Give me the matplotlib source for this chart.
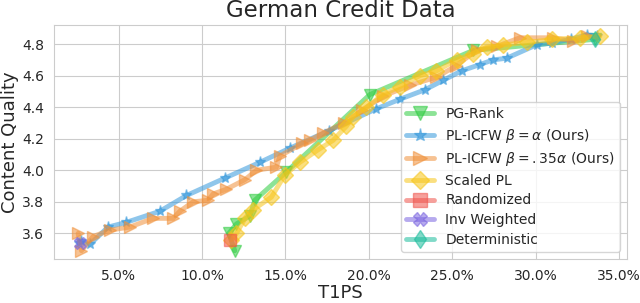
import matplotlib
matplotlib.use("Agg")
import matplotlib.pyplot as plt
import seaborn as sns
from matplotlib.ticker import PercentFormatter

# T1PS (fraction) and content quality per method
pg_rank_x = [0.1196, 0.1160, 0.1206, 0.1286, 0.1316, 0.1506, 0.2006, 0.2626, 0.3356]
pg_rank_y = [3.49, 3.60, 3.66, 3.71, 3.81, 3.99, 4.48, 4.76, 4.83]

icfw_a_x = [0.0260, 0.0276, 0.0326, 0.0436, 0.0546, 0.0746, 0.0906, 0.1136, 0.1346,
            0.1526, 0.1760, 0.2046, 0.2186, 0.2336, 0.2446, 0.2556, 0.2666, 0.2746,
            0.2826, 0.3006, 0.3096, 0.3210, 0.3306, 0.3366]
icfw_a_y = [3.54, 3.55, 3.53, 3.64, 3.67, 3.74, 3.84, 3.95, 4.05,
            4.14, 4.25, 4.39, 4.45, 4.51, 4.57, 4.63, 4.67, 4.70,
            4.71, 4.795, 4.806, 4.83, 4.858, 4.85]

icfw_35_x = [0.0256, 0.0276, 0.0346, 0.0446, 0.0566, 0.0706, 0.0826, 0.0866, 0.0946,
             0.1036, 0.1066, 0.1146, 0.1256, 0.1326, 0.1446, 0.1466, 0.1600, 0.1646,
             0.1726, 0.1850, 0.1960, 0.2086, 0.2250, 0.2406, 0.2520, 0.2646, 0.2766,
             0.2906, 0.3106, 0.3226, 0.3306]
icfw_35_y = [3.60, 3.49, 3.58, 3.62, 3.64, 3.695, 3.695, 3.74, 3.80,
             3.81, 3.85, 3.88, 3.94, 4.00, 4.02, 4.09, 4.17, 4.19,
             4.235, 4.30, 4.38, 4.47, 4.54, 4.59, 4.66, 4.76, 4.785,
             4.84, 4.84, 4.82, 4.85]

scaled_x = [0.1176, 0.1206, 0.1260, 0.1306, 0.1416, 0.1496, 0.1586, 0.1696, 0.1786,
            0.1866, 0.1906, 0.1986, 0.2086, 0.2186, 0.2306, 0.2406, 0.2526, 0.2626,
            0.2706, 0.2806, 0.2950, 0.3100, 0.3266, 0.3386]
scaled_y = [3.56, 3.60, 3.70, 3.75, 3.83, 3.97, 4.05, 4.13, 4.19,
            4.28, 4.34, 4.40, 4.48, 4.53, 4.60, 4.63, 4.70, 4.74,
            4.78, 4.795, 4.81, 4.83, 4.84, 4.85]

randomized_x = [0.1166]
randomized_y = [3.557]
inv_weighted_x = [0.0266]
inv_weighted_y = [3.536]
deterministic_x = [0.3356]
deterministic_y = [4.83]

sns.set_style("whitegrid")
fig, ax = plt.subplots(figsize=(6.4, 3.03), dpi=100)
fig.subplots_adjust(left=0.084, right=0.98, top=0.917, bottom=0.145)

estilo = {"alpha": 0.55, "linewidth": 3.5, "markersize": 8}

ax.plot(pg_rank_x, pg_rank_y, marker="v", color="#2ecc40", label="PG-Rank", **estilo)
ax.plot(icfw_a_x, icfw_a_y, marker="*", color="#3498db",
        label=r"PL-ICFW $\beta=\alpha$ (Ours)", **estilo)
ax.plot(icfw_35_x, icfw_35_y, marker=">", color="#f0913a",
        label=r"PL-ICFW $\beta=.35\alpha$ (Ours)", **estilo)
ax.plot(scaled_x, scaled_y, marker="D", color="#f7c518", label="Scaled PL", **estilo)
ax.plot(randomized_x, randomized_y, marker="s", color="#f0524a", label="Randomized", **estilo)
ax.plot(inv_weighted_x, inv_weighted_y, marker="X", color="#7a64e0", label="Inv Weighted", **estilo)
ax.plot(deterministic_x, deterministic_y, marker="d", color="#1abc9c", label="Deterministic", **estilo)

ax.set_xlim(0.011, 0.355)
ax.set_ylim(3.437, 4.92)
ax.set_yticks([3.6, 3.8, 4.0, 4.2, 4.4, 4.6, 4.8])
ax.xaxis.set_major_formatter(PercentFormatter(xmax=1, decimals=1))
ax.tick_params(labelsize=10)

ax.set_title("German Credit Data", fontsize=16.5)
ax.set_xlabel("T1PS", fontsize=13, labelpad=1)
ax.set_ylabel("Content Quality", fontsize=13, labelpad=2)
ax.legend(loc="lower right", fontsize=10, framealpha=0.8, labelspacing=0.4,
          markerscale=1.2)

fig.savefig("out.png", dpi=100)
